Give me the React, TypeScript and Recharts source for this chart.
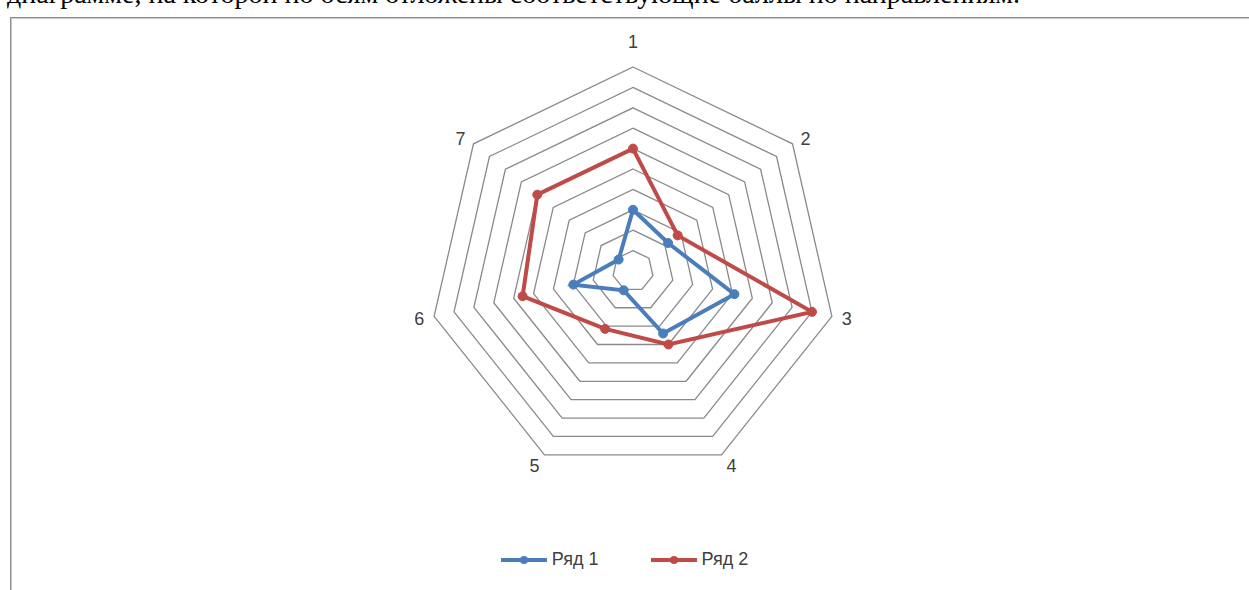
import React from 'react';
import { RadarChart, Radar, PolarGrid, PolarAngleAxis, PolarRadiusAxis, Legend } from 'recharts';

// axes of the radar (directions) and the two series
const directions = ['1', '2', '3', '4', '5', '6', '7'];
const row1 = [3, 2.2, 5.1, 3.4, 1.05, 3, 0.9];
const row2 = [6, 2.8, 9, 4, 3.15, 5.55, 6];
const seriesNames = ['Ряд 1', 'Ряд 2'];
const scaleMax = 10;

const W = 1249;
const H = 590;
const CX = 633;
const CY = 271;
const R = 204;

const data = directions.map((d, i) => ({ dir: d, a: row1[i], b: row2[i] }));

const labelFont = '"Liberation Sans", Arial, sans-serif';

// Excel-style label placement: sits beside the outer vertex
const AngleTick = (props: any) => {
  const { x, y, payload } = props;
  const vx = x - CX;
  const vy = y - CY;
  const len = Math.sqrt(vx * vx + vy * vy) || 1;
  const dx = vx / len;
  const dy = vy / len;
  const px = CX + dx * R;
  const py = CY + dy * R;
  const ox = Math.abs(dx) < 0.01 ? 0 : Math.sign(dx) * 6 + dx * 9;
  const oy = dy > 0 ? dy * 12 : dy < -0.9 ? -25 : dy * 8;
  return (
    <text
      x={px + ox}
      y={py + oy}
      textAnchor="middle"
      dominantBaseline="central"
      fontSize={18}
      fontFamily={labelFont}
      fill="#404040"
    >
      {payload.value}
    </text>
  );
};

const renderLegend = (props: any) => {
  const { payload } = props;
  return (
    <div style={{ display: 'flex', justifyContent: 'center', alignItems: 'center', gap: 52 }}>
      {payload.map((p: any, i: number) => (
        <div key={i} style={{ display: 'flex', alignItems: 'center' }}>
          <svg width={46} height={12}>
            <line x1={0} y1={6} x2={46} y2={6} stroke={p.color} strokeWidth={4} />
            <circle cx={23} cy={6} r={4} fill={p.color} />
          </svg>
          <span style={{ marginLeft: 5, fontSize: 18, fontFamily: labelFont, color: '#404040' }}>{p.value}</span>
        </div>
      ))}
    </div>
  );
};

export default function App() {
  return (
    <div style={{ position: 'absolute', left: 0, top: 0, width: W, height: H, overflow: 'hidden', background: '#fff' }}>
      <div
        style={{
          position: 'absolute',
          left: 7,
          top: -22,
          fontFamily: '"Liberation Serif", "Times New Roman", serif',
          fontSize: 28,
          whiteSpace: 'nowrap',
          color: '#000',
        }}
      >
        диаграмме, на которой по осям отложены соответствующие баллы по направлениям.
      </div>
      <div
        style={{
          position: 'absolute',
          left: 10,
          top: 17,
          width: 1400,
          height: 800,
          border: '1.5px solid #8a8a8a',
          boxShadow: '1px 1px 1px #c8c8c8 inset',
        }}
      />
      <div style={{ position: 'absolute', left: 0, top: 0 }}>
        <RadarChart width={W} height={H} data={data} cx={CX} cy={CY} outerRadius={R} margin={{ top: 0, right: 0, bottom: 0, left: 0 }}>
          <PolarGrid gridType="polygon" radialLines={false} stroke="#8a8a8a" strokeWidth={1.3} />
          <PolarAngleAxis dataKey="dir" tick={<AngleTick />} tickLine={false} axisLine={false} />
          <PolarRadiusAxis domain={[0, scaleMax]} tickCount={11} tick={false} axisLine={false} />
          <Radar
            name={seriesNames[0]}
            dataKey="a"
            stroke="#4a7ebb"
            strokeWidth={4}
            fill="#4a7ebb"
            fillOpacity={0}
            dot={{ r: 4.5, fill: '#4a7ebb', fillOpacity: 1, stroke: '#4a7ebb', strokeWidth: 1 }}
            isAnimationActive={false}
          />
          <Radar
            name={seriesNames[1]}
            dataKey="b"
            stroke="#be4b48"
            strokeWidth={4}
            fill="#be4b48"
            fillOpacity={0}
            dot={{ r: 4.5, fill: '#be4b48', fillOpacity: 1, stroke: '#be4b48', strokeWidth: 1 }}
            isAnimationActive={false}
          />
          <Legend
            content={renderLegend}
            verticalAlign="top"
            wrapperStyle={{ position: 'absolute', top: 549, left: 0, width: W }}
          />
        </RadarChart>
      </div>
    </div>
  );
}
